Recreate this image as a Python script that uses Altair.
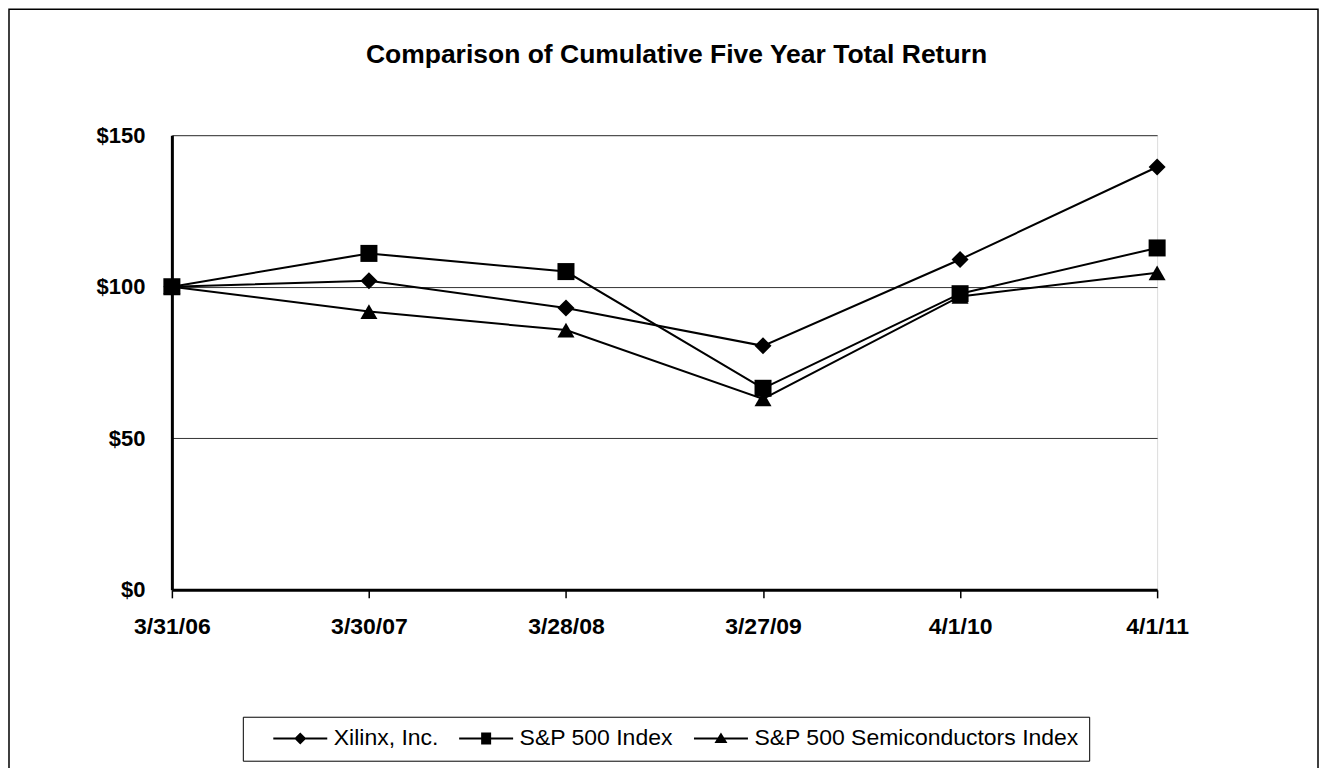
import altair as alt
import pandas as pd

dates = ["3/31/06", "3/30/07", "3/28/08", "3/27/09", "4/1/10", "4/1/11"]
series_names = ["Xilinx, Inc.", "S&P 500 Index", "S&P 500 Semiconductors Index"]
xilinx = [100, 102, 93, 80.5, 109, 139.5]
sp500 = [100, 111, 105, 66.5, 97.7, 112.8]
semis = [100, 91.8, 85.7, 63, 96.8, 104.6]
y_ticks = [0, 50, 100, 150]

rows = []
for name, vals in zip(series_names, [xilinx, sp500, semis]):
    for d, v in zip(dates, vals):
        rows.append({"date": d, "series": name, "value": v})
df = pd.DataFrame(rows)

FONT = "Liberation Sans"
W, H = 986, 455
PAD_L, PAD_T = 164, 127
TOTAL_W, TOTAL_H = 1312, 760

x_enc = alt.X(
    "date:O",
    sort=dates,
    scale=alt.Scale(type="point", padding=0),
    axis=alt.Axis(
        title=None, labelAngle=0, labelFont=FONT, labelFontSize=23, labelFontWeight="bold",
        labelColor="black", tickColor="black", tickSize=8, tickWidth=1.5,
        domainColor="black", domainWidth=3, labelPadding=18, labelBaseline="top",
    ),
)
y_enc = alt.Y(
    "value:Q",
    scale=alt.Scale(domain=[0, 150], nice=False, zero=True),
    axis=alt.Axis(
        title=None, values=y_ticks, labelExpr="'$' + datum.value", labelFont=FONT,
        labelFontSize=22, labelFontWeight="bold", labelColor="black", ticks=False,
        labelPadding=27, domainColor="black", domainWidth=3, grid=True,
        gridColor="black", gridWidth=1, gridOpacity=0.8,
    ),
)

base = alt.Chart(df)

lines = base.mark_line(color="black", strokeWidth=2).encode(
    x=x_enc, y=y_enc, detail="series:N"
)

points = base.mark_point(filled=True, color="black", size=290, opacity=1).encode(
    x=x_enc,
    y=y_enc,
    shape=alt.Shape(
        "series:N",
        scale=alt.Scale(domain=series_names, range=["diamond", "square", "triangle-up"]),
        legend=None,
    ),
)

# legend glyphs: a short line with the marker in its middle (unit = 10px)
LINE = "M-2.7,-0.1H2.7V0.1H-2.7Z "
legend_paths = [
    LINE + "M0,-0.6L0.6,0L0,0.6L-0.6,0Z",
    LINE + "M-0.5,-0.6H0.5V0.6H-0.5Z",
    LINE + "M0,-0.6L0.65,0.45H-0.65Z",
]

legend_layer = base.transform_filter("false").mark_point(
    filled=True, color="black", opacity=1
).encode(
    x=x_enc,
    y=y_enc,
    shape=alt.Shape(
        "series:N",
        scale=alt.Scale(domain=series_names, range=legend_paths),
        legend=alt.Legend(
            title=None, orient="none", legendX=71, legendY=582, direction="horizontal",
            columns=3, labelFont=FONT, labelFontSize=23, labelColor="black",
            labelLimit=600, symbolSize=400, symbolFillColor="black",
            symbolStrokeWidth=0, symbolOffset=36, labelOffset=22, columnPadding=0,
            padding=10, strokeColor="black", symbolOpacity=1,
        ),
    ),
)

border = alt.Chart(pd.DataFrame({"a": [0]})).mark_rect(
    fillOpacity=0, stroke="black", strokeWidth=1.5
).encode(
    x=alt.value(-PAD_L + 1),
    x2=alt.value(TOTAL_W - PAD_L - 1),
    y=alt.value(-PAD_T + 1),
    y2=alt.value(TOTAL_H - PAD_T + 1),
)

chart = (
    alt.layer(lines, points, legend_layer, border)
    .resolve_scale(shape="independent")
    .properties(
        width=W,
        height=H,
        title=alt.TitleParams(
            "Comparison of Cumulative Five Year Total Return",
            font=FONT, fontSize=26.5, fontWeight="bold", color="black",
            anchor="middle", offset=-60, dx=12,
        ),
        autosize=alt.AutoSizeParams(type="none"),
        padding={"left": PAD_L, "top": PAD_T, "right": TOTAL_W - PAD_L - W,
                 "bottom": TOTAL_H - PAD_T - H},
    )
    .configure_view(stroke="black", strokeWidth=2)
    .configure(background="white")
)

chart.save("out.html", embed_options={"renderer": "svg", "actions": False})
